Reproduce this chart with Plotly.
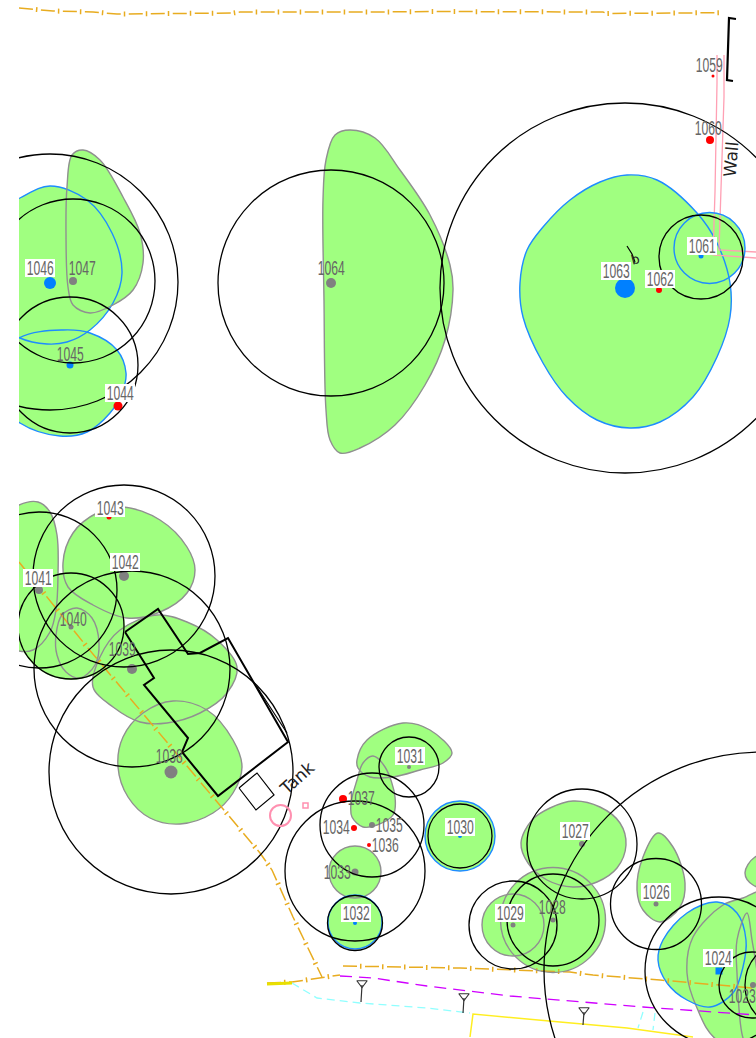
import plotly.graph_objects as go

# ---- tree ids, trunk positions, trunk sizes, classes
tree_ids = [1046,1047,1045,1044,1064,1063,1062,1061,1060,1059,1043,1042,1041,1040,1039,1038,
            1037,1036,1035,1034,1033,1032,1031,1030,1029,1028,1027,1026,1024]
tree_x = [50,73,70,118,331,625,659,701,710,713,109,124,39,71,132,171,
          343,369,372,354,355,355,409,460,513,553,582,656,719]
tree_y = [283,281,365,406,283,288,290,256,140,76,517,576,590,627,669,772,
          799,845,825,828,872,923,767,836,925,920,844,904,971]
tree_d = [12,8,7,9,10,20,6,5,8,3,5,10,8,5,10,13,
          8,4,6,6,7,4,4,4,5,5,6,5,7]
tree_c = ["b","g","b","r","g","b","r","b","r","r","r","g","g","g","g","g",
          "r","r","g","r","g","b","g","b","g","g","g","g","b"]

# ---- label positions and whether the label has a white box
label_x = [40,82,70,120,331,616,660,702,708,709,110,125,38,73,122,169,
           361,385,389,336,337,356,410,460,510,552,575,656,718]
label_y = [268,268,354,393,268,271,279,246,128,65,508,562,578,619,649,756,
           798,845,825,827,872,913,756,827,913,907,831,892,958]
label_box = [1,0,0,1,0,1,1,1,0,0,1,1,1,0,0,0,
             0,0,0,0,0,1,1,1,1,0,1,1,1]

# ---- protection circles: centre x, centre y, radius
circ_x = [50,73,70,331,625,701,124,39,71,132,171,409,372,355,355,460,582,513,553,656,719,762,752,790]
circ_y = [282,281,365,283,288,257,576,590,626,669,772,767,825,871,923,836,844,925,920,904,971,970,985,985]
circ_r = [128,82,68,113,185,42,91,78,53,98,122,30,52,70,27.5,32,55,44,46,45.5,74,218,33,45]

# ---- round canopies: centre x, centre y, radius, outline
disc_x = [709.5,71,355,355,460,553,513]
disc_y = [248,626,872,922,836,920,925]
disc_r = [35.5,53,26,27,35,52.5,31]
disc_line = ["#1e8cff","#a0ff80","#909090","#1e8cff","#1e8cff","#909090","#909090"]

# ---- irregular canopies
c1047_x = [67,72,83,100,123,140,143,133,113,90,73,68,66,67]
c1047_y = [187,155,150,160,197,233,263,290,305,313,305,287,233,187]
c1046_x = [50,87,112,122,113,90,67,47,20,-30,-30,20,50]
c1046_y = [186,200,233,273,303,330,342,344,338,300,230,198,186]
c1045_x = [19,63,90,117,126,122,110,87,60,20,-20,19]
c1045_y = [338,330,333,350,373,393,413,432,436,423,380,338]
c1064_x = [323,326,335,350,375,400,430,450,453,445,425,395,360,340,330,326,324,323]
c1064_y = [200,160,135,130,138,170,215,265,290,340,385,425,448,453,440,410,300,200]
c1063_x = [627,657,697,717,730,730,717,693,660,630,597,567,543,523,520,527,543,570,600,627]
c1063_y = [175,180,213,243,283,317,357,397,422,428,420,397,363,317,283,250,227,200,182,175]
c1041_x = [0,19,38,50,57,58,56,50,33,15,0,0]
c1041_y = [520,505,502,512,535,575,610,632,650,650,640,520]
c1040_x = [77,92,99,95,80,66,57,56,62,77]
c1040_y = [608,618,643,665,678,672,655,635,615,608]
c1039_x = [157,187,217,237,227,200,167,140,113,93,100,120,157]
c1039_y = [615,622,640,667,693,713,723,722,707,687,657,630,615]
c1042_x = [123,160,187,195,187,160,127,93,68,63,73,97,123]
c1042_y = [507,520,547,570,593,612,618,605,587,563,533,513,507]
c1038_x = [173,207,233,242,233,213,180,150,128,118,123,143,173]
c1038_y = [701,710,740,767,793,813,824,818,797,767,737,713,701]
c1031_x = [357,367,403,430,452,443,420,393,370,358,357]
c1031_y = [760,740,723,730,753,763,770,777,777,768,760]
c1037_x = [373,385,395,393,377,363,352,351,357,363,373]
c1037_y = [756,767,797,815,825,827,817,803,780,763,756]
c1027_x = [521,532,550,573,600,620,626,617,597,573,547,528,521]
c1027_y = [843,820,808,801,807,823,845,868,882,887,880,863,843]
c1026_x = [658,673,685,680,660,643,637,643,658]
c1026_y = [833,847,883,907,922,910,890,857,833]
c1023_x = [687,693,723,743,770,790,790,717,697,687]
c1023_y = [973,937,905,898,890,950,1060,1040,1008,973]
c1022_x = [747,752,758,760,750,743,737,737,747]
c1022_y = [913,940,980,1040,1050,1038,973,940,913]
c1021_x = [755,745,753,790,790,755]
c1021_y = [857,873,885,890,850,857]
c1024_x = [658,663,687,717,737,746,743,733,710,687,667,658]
c1024_y = [960,940,913,902,913,940,967,993,1007,1000,983,960]

# ---- linework
top_x = [19,53,93,117,233,240,377,433,603,607,720]
top_y = [8,11,12,14,13,12,12,11.5,12,13.5,12.7]
diag_x = [19,87,260,272,293,322]
diag_y = [562,647,853,870,917,977]
low1_x = [267,292,340]
low1_y = [983,982,975]
low2_x = [343,460,570,593,660,753]
low2_y = [966,968,972,975,980,988]
mag_x = [340,373,427,510,643,756]
mag_y = [976,978,986,996,1007,1015]
cy1_x = [292,317,360,427,470]
cy1_y = [983,998,1003,1008,1013]
cy2_x = [643,638]
cy2_y = [1012,1028]
cy3_x = [655,653]
cy3_y = [1013,1030]
yel1_x = [267,292]
yel1_y = [984,983]
yel2_x = [470,473,560,627,693]
yel2_y = [1037,1014,1022,1028,1037]
wall1_x = [717,717,715,713,756]
wall1_y = [55,83,192,255,258]
wall2_x = [724,724,719,756]
wall2_y = [55,97,250,252]
brk_x = [736,729,727,733]
brk_y = [19,18,80,81]
house_x = [125,158,188,200,228,288,218,182,188,144,154,125]
house_y = [632,609,654,653,638,742,796,752,738,685,678,632]
house2_x = [257,287]
house2_y = [687,733]
tank_x = [239,257,274,256,239]
tank_y = [788,773,795,810,788]
stem_x = [[362,361],[464,463],[584,583]]
stem_y = [[985,1002],[998,1013],[1012,1025]]
hook_x = [627,632,635]
hook_y = [246,254,262]
dot23_x = [753]
dot23_y = [985]

GREEN = "#a0ff80"; BLUE = "#1e8cff"; GRAY = "#909090"
ORANGE = "#e8ac20"; PINK = "#ffa0b4"
COL = {"b": "#0080ff", "g": "#808080", "r": "#ff0000"}

fig = go.Figure()

def stroke(x, y, color, width=1.2, dash="solid", spline=False):
    fig.add_trace(go.Scatter(x=x, y=y, mode="lines",
                             line=dict(color=color, width=width, dash=dash,
                                       shape="spline" if spline else "linear"),
                             hoverinfo="skip", showlegend=False))

canopies = [(c1046_x, c1046_y, BLUE), (c1047_x, c1047_y, GRAY), (c1045_x, c1045_y, BLUE),
            (c1064_x, c1064_y, GRAY), (c1063_x, c1063_y, BLUE), (c1041_x, c1041_y, GRAY),
            (c1042_x, c1042_y, GRAY), (c1039_x, c1039_y, GRAY), (c1038_x, c1038_y, GRAY),
            (c1040_x, c1040_y, GRAY), (c1031_x, c1031_y, GRAY), (c1037_x, c1037_y, GRAY),
            (c1027_x, c1027_y, GRAY), (c1026_x, c1026_y, GRAY), (c1021_x, c1021_y, GRAY),
            (c1023_x, c1023_y, GRAY), (c1024_x, c1024_y, BLUE), (c1022_x, c1022_y, GRAY)]
# all fills first, then all outlines, so every outline stays visible where canopies overlap
for x, y, c in canopies:
    fig.add_trace(go.Scatter(x=x, y=y, mode="lines", fill="toself", fillcolor=GREEN,
                             line=dict(color=GREEN, width=0.1, shape="spline", smoothing=1),
                             hoverinfo="skip", showlegend=False))
for x, y, c in canopies:
    stroke(x, y, c, 1.4, spline=True)

shapes = []
for x, y, r in zip(disc_x, disc_y, disc_r):
    shapes.append(dict(type="circle", xref="x", yref="y", layer="below",
                       x0=x-r, x1=x+r, y0=y-r, y1=y+r, fillcolor=GREEN, line=dict(width=0)))
for x, y, r, c in zip(disc_x, disc_y, disc_r, disc_line):
    shapes.append(dict(type="circle", xref="x", yref="y", layer="above",
                       x0=x-r, x1=x+r, y0=y-r, y1=y+r, line=dict(color=c, width=1.4)))
for x, y, r in zip(circ_x, circ_y, circ_r):
    shapes.append(dict(type="circle", xref="x", yref="y", layer="above",
                       x0=x-r, x1=x+r, y0=y-r, y1=y+r, line=dict(color="#000000", width=1.3)))
# tank ring and post
shapes.append(dict(type="circle", xref="x", yref="y", layer="above",
                   x0=270, x1=291, y0=805, y1=826, line=dict(color="#ff90b0", width=2)))
shapes.append(dict(type="rect", xref="x", yref="y", layer="above",
                   x0=303, x1=308, y0=803, y1=808, line=dict(color="#ff90b0", width=1.5)))
# white label boxes
for x, y, b in zip(label_x, label_y, label_box):
    if b:
        shapes.append(dict(type="rect", xref="x", yref="y", layer="above",
                           x0=x-15, x1=x+15, y0=y-9, y1=y+9, fillcolor="#ffffff", line=dict(width=0)))

# dashed service lines: long dash + perpendicular tick
for x, y in [(top_x, top_y), (diag_x, diag_y), (low1_x, low1_y), (low2_x, low2_y)]:
    stroke(x, y, ORANGE, 1.5, "14px,8px")
    stroke(x, y, ORANGE, 5, "0px,17px,1.5px,3.5px")
stroke(mag_x, mag_y, "#d000ff", 1.3, "12px,7px")
for x, y in [(cy1_x, cy1_y), (cy2_x, cy2_y), (cy3_x, cy3_y)]:
    stroke(x, y, "#90ffff", 1.3, "8px,5px")
stroke(yel1_x, yel1_y, "#e8e000", 3)
stroke(yel2_x, yel2_y, "#ffee20", 1.5)
stroke(wall1_x, wall1_y, PINK, 1.3)
stroke(wall2_x, wall2_y, PINK, 1.3)
stroke(brk_x, brk_y, "#000000", 2.2)
stroke(house_x, house_y, "#000000", 2)
stroke(house2_x, house2_y, "#000000", 1.2)
stroke(tank_x, tank_y, "#000000", 1.2)
stroke(hook_x, hook_y, "#000000", 1.2)
for sx, sy in zip(stem_x, stem_y):
    stroke(sx, sy, "#333333", 1.2)
fig.add_trace(go.Scatter(x=[s[0] for s in stem_x], y=[s[0] - 2 for s in stem_y], mode="markers",
                         marker=dict(symbol="triangle-down-open", size=9, color="#333333", line=dict(width=1.1)),
                         hoverinfo="skip", showlegend=False))

fig.add_trace(go.Scatter(x=tree_x, y=tree_y, mode="markers", text=tree_ids,
                         marker=dict(size=tree_d, opacity=1, color=[COL[c] for c in tree_c], line=dict(width=0),
                                     symbol=["square" if i == 1024 else "circle" for i in tree_ids]),
                         hovertemplate="%{text}<extra></extra>", showlegend=False))
fig.add_trace(go.Scatter(x=dot23_x, y=dot23_y, mode="markers", marker=dict(size=6, color="#808080"),
                         hoverinfo="skip", showlegend=False))

LABEL = dict(family="Liberation Sans", size=20, color="#666666")
ann = []
for t, x, y in zip(tree_ids, label_x, label_y):
    ann.append(dict(text=str(t), x=x, y=y, xref="x", yref="y", showarrow=False, font=LABEL))
ann.append(dict(text="1023", x=742, y=996, xref="x", yref="y", showarrow=False, font=LABEL))
HAND = dict(family="DejaVu Sans", color="#222222")
ann.append(dict(text="Tank", x=297, y=778, xref="x", yref="y", showarrow=False, textangle=-42,
                font=dict(size=17, **HAND)))
ann.append(dict(text="Wall", x=731, y=159, xref="x", yref="y", showarrow=False, textangle=-85,
                font=dict(size=17, **HAND)))
ann.append(dict(text="b", x=635, y=259, xref="x", yref="y", showarrow=False, textangle=-15,
                font=dict(size=13, **HAND)))

fig.update_layout(width=756, height=1038, margin=dict(l=19, r=0, t=0, b=0),
                  paper_bgcolor="#ffffff", plot_bgcolor="#ffffff", showlegend=False,
                  shapes=shapes, annotations=ann,
                  xaxis=dict(range=[19, 756], visible=False, showgrid=False, zeroline=False),
                  yaxis=dict(range=[1038, 0], visible=False, showgrid=False, zeroline=False))

# the drawing's tree numbers use a tall condensed CAD font: squeeze the real text to that width
squeeze = ("document.body.style.margin='0';document.body.style.overflow='hidden';"
           "document.querySelectorAll('.annotation-text').forEach(function(t){"
           "if(/^\\d{4}$/.test(t.textContent)){t.setAttribute('textLength','27');"
           "t.setAttribute('lengthAdjust','spacingAndGlyphs');}});")
fig.write_html("out.html", config={"displayModeBar": False}, post_script=squeeze)
